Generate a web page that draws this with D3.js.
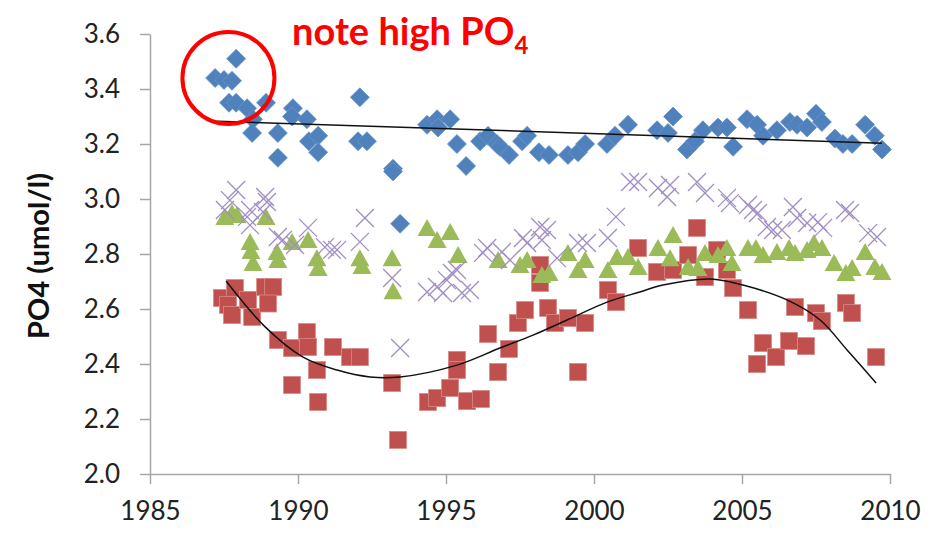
<!DOCTYPE html>
<html>
<head>
<meta charset="utf-8">
<script src="https://cdn.jsdelivr.net/npm/d3@7"></script>
<style>
  body { margin: 0; background: #fff; }
  svg { display: block; }
  .axis path, .axis line { stroke: #a6a6a6; stroke-width: 1.5; }
  .axis text { font-family: Lato, "Liberation Sans", sans-serif; font-size: 26px; fill: #222; }
</style>
</head>
<body>
<svg id="chart"></svg>
<script>
// blue diamonds
const blueYears = [1987.20,1987.50,1987.77,1987.91,1987.67,1987.91,1988.28,1988.48,1988.45,1988.92,1989.32,1989.32,1989.83,1989.80,1990.30,1990.37,1990.68,1990.68,1992.09,1992.03,1992.33,1993.21,1993.21,1993.45,1994.36,1994.70,1994.73,1995.14,1995.37,1995.68,1996.15,1996.42,1996.72,1996.82,1997.13,1997.57,1997.74,1998.14,1998.48,1999.12,1999.46,1999.70,2000.44,2000.71,2001.15,2002.13,2002.50,2002.67,2003.14,2003.41,2003.68,2004.19,2004.49,2004.70,2005.17,2005.51,2005.71,2006.18,2006.62,2006.86,2007.20,2007.50,2007.70,2008.14,2008.41,2008.72,2009.16,2009.49,2009.73]
const blueValues = [3.44,3.433,3.43,3.51,3.35,3.35,3.33,3.29,3.24,3.35,3.24,3.15,3.33,3.30,3.29,3.21,3.23,3.17,3.37,3.21,3.21,3.11,3.10,2.91,3.27,3.29,3.26,3.29,3.20,3.12,3.21,3.23,3.20,3.19,3.16,3.21,3.23,3.17,3.16,3.16,3.17,3.20,3.20,3.23,3.27,3.25,3.24,3.30,3.18,3.21,3.25,3.26,3.26,3.19,3.29,3.27,3.23,3.25,3.28,3.27,3.26,3.31,3.28,3.22,3.20,3.20,3.27,3.23,3.18]

// red squares
const redYears = [1987.43,1987.64,1987.87,1987.77,1988.31,1988.45,1988.89,1989.16,1988.99,1989.32,1989.80,1990.30,1990.34,1989.80,1990.64,1990.68,1991.18,1991.76,1992.09,1993.18,1993.38,1994.39,1994.70,1995.14,1995.71,1996.18,1995.37,1995.37,1996.42,1996.76,1997.13,1997.43,1997.67,1998.45,1998.68,1999.12,1999.70,1999.46,1998.18,1998.18,2000.47,2000.74,2001.49,2002.13,2002.67,2003.18,2003.48,2004.16,2003.75,2004.49,2004.70,2005.20,2005.51,2005.71,2006.15,2006.59,2006.79,2007.16,2007.50,2007.70,2008.51,2008.72,2009.53]
const redValues = [2.64,2.615,2.676,2.578,2.633,2.571,2.68,2.68,2.62,2.487,2.458,2.516,2.462,2.324,2.378,2.262,2.462,2.425,2.425,2.331,2.124,2.262,2.276,2.313,2.265,2.273,2.415,2.378,2.509,2.371,2.455,2.549,2.596,2.604,2.549,2.567,2.549,2.371,2.76,2.695,2.669,2.625,2.822,2.735,2.742,2.796,2.895,2.815,2.716,2.742,2.676,2.596,2.40,2.476,2.425,2.484,2.607,2.465,2.585,2.556,2.622,2.585,2.425]

// green triangles
const greenYears = [1987.53,1987.77,1987.94,1988.92,1988.38,1988.41,1988.48,1989.29,1989.32,1989.80,1990.34,1990.64,1990.68,1992.09,1992.16,1993.18,1993.21,1994.36,1994.70,1995.14,1995.41,1996.76,1997.50,1997.74,1998.24,1998.48,1999.12,1999.46,1999.70,2000.47,2000.78,2001.15,2001.49,2002.16,2002.67,2002.57,2003.18,2003.51,2003.75,2004.19,2004.49,2004.66,2005.20,2005.47,2005.71,2006.18,2006.59,2006.79,2007.20,2007.43,2007.70,2008.11,2008.51,2008.72,2009.16,2009.49,2009.73]
const greenValues = [2.935,2.949,2.942,2.935,2.844,2.811,2.767,2.807,2.778,2.844,2.851,2.785,2.749,2.785,2.756,2.785,2.665,2.895,2.851,2.88,2.796,2.778,2.76,2.778,2.724,2.731,2.804,2.742,2.778,2.742,2.789,2.789,2.753,2.822,2.869,2.785,2.753,2.749,2.804,2.796,2.822,2.767,2.822,2.822,2.796,2.807,2.822,2.804,2.815,2.84,2.822,2.767,2.731,2.749,2.807,2.753,2.735]

// purple crosses
const purpleYears = [1987.91,1987.70,1987.53,1988.38,1988.38,1988.89,1988.95,1988.82,1988.28,1989.32,1989.49,1990.34,1989.90,1990.91,1991.32,1991.15,1992.09,1992.26,1993.18,1993.45,1994.36,1994.70,1995.03,1995.20,1995.37,1994.90,1995.54,1995.81,1996.39,1996.25,1996.89,1997.16,1997.60,1997.74,1998.18,1998.41,1998.24,1998.75,1999.46,1999.76,2000.47,2000.74,2001.22,2001.49,2002.16,2002.57,2002.47,2003.48,2003.75,2004.49,2004.59,2005.20,2005.37,2005.54,2005.84,2006.05,2006.35,2006.72,2006.86,2007.20,2007.57,2007.74,2008.48,2008.65,2009.26,2009.56]
const purpleValues = [3.033,2.996,2.96,2.96,2.905,3.007,2.989,2.953,2.935,2.862,2.851,2.895,2.833,2.825,2.815,2.815,2.844,2.931,2.713,2.458,2.662,2.68,2.705,2.731,2.742,2.658,2.658,2.669,2.822,2.804,2.807,2.778,2.858,2.84,2.898,2.887,2.851,2.785,2.84,2.84,2.858,2.935,3.062,3.062,3.04,3.051,3.007,3.062,3.022,3.004,2.985,2.978,2.96,2.949,2.898,2.887,2.887,2.971,2.931,2.913,2.916,2.895,2.96,2.949,2.876,2.862]

// trend lines
const blueTrendYears = [1987.28, 2009.73]
const blueTrendValues = [3.283, 3.203]
const redTrendYears = [1987.57,1988.89,1990.17,1991.32,1992.43,1993.45,1995.37,1996.82,1997.94,1999.09,2000.44,2001.55,2002.33,2003.92,2005.03,2006.52,2007.64,2008.55,2009.53]
const redTrendValues = [2.702,2.535,2.425,2.378,2.353,2.353,2.396,2.458,2.505,2.56,2.625,2.662,2.687,2.709,2.687,2.633,2.56,2.451,2.331]

const xTicks = [1985, 1990, 1995, 2000, 2005, 2010]
const yTicks = [2.0, 2.2, 2.4, 2.6, 2.8, 3.0, 3.2, 3.4, 3.6]

const W = 941, H = 548
const margin = {top: 34, right: 51, bottom: 74, left: 150}

const svg = d3.select('#chart').attr('width', W).attr('height', H)

const x = d3.scaleLinear().domain([1985, 2010]).range([margin.left, W - margin.right])
const y = d3.scaleLinear().domain([2.0, 3.6]).range([H - margin.bottom, margin.top])

// axes
svg.append('g')
  .attr('class', 'axis')
  .attr('transform', 'translate(0,' + (H - margin.bottom) + ')')
  .call(d3.axisBottom(x).tickValues(xTicks).tickFormat(d3.format('d')).tickSize(10).tickSizeOuter(0).tickPadding(18))

svg.append('g')
  .attr('class', 'axis')
  .attr('transform', 'translate(' + margin.left + ',0)')
  .call(d3.axisLeft(y).tickValues(yTicks).tickFormat(d3.format('.1f')).tickSize(10).tickSizeOuter(0).tickPadding(20))

svg.append('text')
  .attr('transform', 'translate(49,' + (y(2.8) + 2) + ') rotate(-90)')
  .attr('text-anchor', 'middle')
  .style('font-family', 'Lato, "Liberation Sans", sans-serif')
  .style('font-weight', 'bold')
  .style('font-size', '29px')
  .style('fill', '#111')
  .text('PO4 (umol/l)')

const zip = (xs, ys) => xs.map((d, i) => [d, ys[i]])

// blue diamonds
svg.append('g').selectAll('path')
  .data(zip(blueYears, blueValues))
  .join('path')
  .attr('d', 'M0,-9.5L9.5,0L0,9.5L-9.5,0Z')
  .attr('transform', d => 'translate(' + x(d[0]) + ',' + y(d[1]) + ')')
  .attr('fill', '#4f81bd')
  .attr('stroke', '#6a95c9')
  .attr('stroke-width', 0.8)

// red squares
svg.append('g').selectAll('rect')
  .data(zip(redYears, redValues))
  .join('rect')
  .attr('x', d => x(d[0]) - 8.5)
  .attr('y', d => y(d[1]) - 8.5)
  .attr('width', 17)
  .attr('height', 17)
  .attr('fill', '#c0504d')
  .attr('stroke', '#d88a88')
  .attr('stroke-width', 0.8)

// green triangles
svg.append('g').selectAll('path')
  .data(zip(greenYears, greenValues))
  .join('path')
  .attr('d', 'M0,-9L9.5,8L-9.5,8Z')
  .attr('transform', d => 'translate(' + x(d[0]) + ',' + y(d[1]) + ')')
  .attr('fill', '#9bbb59')

// purple crosses
svg.append('g').selectAll('path')
  .data(zip(purpleYears, purpleValues))
  .join('path')
  .attr('d', 'M-9,-9L9,9M-9,9L9,-9')
  .attr('transform', d => 'translate(' + x(d[0]) + ',' + y(d[1]) + ')')
  .attr('stroke', '#a18ec4')
  .attr('stroke-width', 1.3)
  .attr('fill', 'none')

// trend lines
const line = d3.line().x(d => x(d[0])).y(d => y(d[1]))
svg.append('path')
  .datum(zip(blueTrendYears, blueTrendValues))
  .attr('d', line)
  .attr('fill', 'none')
  .attr('stroke', '#111')
  .attr('stroke-width', 1.5)

svg.append('path')
  .datum(zip(redTrendYears, redTrendValues))
  .attr('d', line.curve(d3.curveCatmullRom))
  .attr('fill', 'none')
  .attr('stroke', '#111')
  .attr('stroke-width', 1.5)

// annotation
svg.append('circle')
  .attr('cx', x(1987.65))
  .attr('cy', y(3.44))
  .attr('r', 46)
  .attr('fill', 'none')
  .attr('stroke', '#ff0000')
  .attr('stroke-width', 4)

const note = svg.append('text')
  .attr('x', 292)
  .attr('y', 45)
  .style('font-family', 'Lato, "Liberation Sans", sans-serif')
  .style('font-weight', 'bold')
  .style('font-size', '38px')
  .style('fill', '#ff0000')
note.append('tspan').text('note high PO')
note.append('tspan').attr('dy', 9).style('font-size', '24px').text('4')
</script>
</body>
</html>
